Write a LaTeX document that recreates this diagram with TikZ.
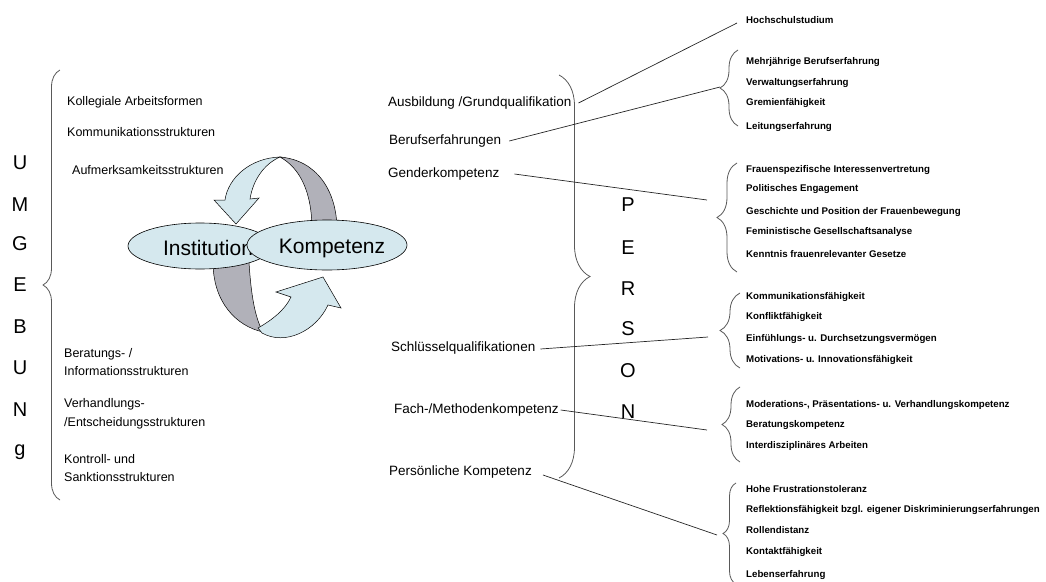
\documentclass[tikz,border=0pt]{standalone}
\usepackage{fontspec}
\setmainfont{Liberation Sans}
\usetikzlibrary{shapes.geometric,decorations.pathreplacing}
\definecolor{ribbonblue}{HTML}{D5E8EE}
\definecolor{ribbongray}{HTML}{B1B1B9}
\begin{document}
\begin{tikzpicture}[x=1pt,y=-1pt,
	lab/.style={font=\fontsize{12.5}{18.5}\selectfont,anchor=west,align=left,inner sep=2pt},
	mid/.style={font=\fontsize{13.5}{16}\selectfont,anchor=west,inner sep=2pt},
	item/.style={font=\bfseries\fontsize{9.7}{11}\selectfont,anchor=west,inner sep=1pt},
	big/.style={font=\fontsize{20}{22}\selectfont,inner sep=0pt},
	bubble/.style={ellipse,draw=black,fill=ribbonblue,line width=0.6pt,inner sep=0pt},
	link/.style={draw=black!85,line width=0.7pt},
	curly/.style={decorate,decoration={brace,amplitude=#1},draw=black!65,line width=0.8pt}]
	\useasboundingbox (0,0) rectangle (1046,581);
	% UMGEBUNg
	\node[big] (u1) at (20,163) {U};
	\node[big] (m1) at (20,205) {M};
	\node[big] (g1) at (20,244) {G};
	\node[big] (e1) at (20,285) {E};
	\node[big] (b1) at (20,327) {B};
	\node[big] (u2) at (20,368) {U};
	\node[big] (n1) at (20,410) {N};
	\node[big] (g2) at (20,452) {g};
	\draw[curly=17] (60,500) -- (60,70);
	% Umgebung structures
	\node[lab] (kolleg) at (65,102) {Kollegiale Arbeitsformen};
	\node[lab] (kommun) at (65,132) {Kommunikationsstrukturen};
	\node[lab] (aufmerk) at (70,170) {Aufmerksamkeitsstrukturen};
	\node[lab] (berat) at (62,362) {Beratungs- /\\Informationsstrukturen};
	\node[lab] (verhand) at (62,414) {Verhandlungs-\\/Entscheidungsstrukturen};
	\node[lab] (kontroll) at (62,468) {Kontroll- und\\Sanktionsstrukturen};
	% ribbons
	\fill[ribbongray,draw=black,line width=0.5pt] (280,157) .. controls (316,160) and (337,190) .. (337,230)
		-- (312,230) .. controls (312,192) and (300,168) .. (280,157) -- cycle;
	\fill[ribbonblue,draw=black,line width=0.5pt] (280,157) .. controls (250,158) and (228,178) .. (225,200)
		-- (214,200) -- (236,224) -- (259,198) -- (250,199) .. controls (253,180) and (264,164) .. (280,157) -- cycle;
	\fill[ribbongray,draw=black,line width=0.5pt] (213,262) -- (249,262) .. controls (251,295) and (255,318) .. (263,332)
		.. controls (236,326) and (213,302) .. (213,262) -- cycle;
	\fill[ribbonblue,draw=black,line width=0.5pt] (258,328) .. controls (272,320) and (285,310) .. (291,297)
		-- (276,292) -- (323,277) -- (341,308) -- (328,305) .. controls (316,331) and (285,346) .. (262,333) -- cycle;
	\node[bubble,minimum width=144pt,minimum height=46pt] (inst) at (200,246) {};
	\node[font=\fontsize{21}{24}\selectfont,inner sep=0pt] (insttxt) at (208,248) {Institution};
	\node[bubble,minimum width=160pt,minimum height=50pt] (komp) at (327,245) {};
	\node[font=\fontsize{21}{24}\selectfont,inner sep=0pt] (komptxt) at (332,248) {Kompetenz};
	% PERSON
	\draw[curly=31] (559,75) -- (559,478);
	\node[big] (p1) at (628,205) {P};
	\node[big] (e2) at (628,248) {E};
	\node[big] (r1) at (628,289) {R};
	\node[big] (s1) at (628,329) {S};
	\node[big] (o1) at (628,371) {O};
	\node[big] (n2) at (628,412) {N};
	% person areas
	\node[mid] (ausb) at (386,103) {Ausbildung /Grundqualifikation};
	\node[mid] (beruf) at (387,141) {Berufserfahrungen};
	\node[mid] (gender) at (386,174) {Genderkompetenz};
	\node[mid] (schl) at (389,348) {Schlüsselqualifikationen};
	\node[mid] (fach) at (392,410) {Fach-/Methodenkompetenz};
	\node[mid] (pers) at (387,472) {Persönliche Kompetenz};
	% details
	\node[item] (hs) at (745,20) {Hochschulstudium};
	\draw[curly=18] (738,126) -- (738,50);
	\node[item] (mbe) at (745,62) {Mehrjährige Berufserfahrung};
	\node[item] (vwe) at (745,83) {Verwaltungserfahrung};
	\node[item] (grf) at (745,103) {Gremienfähigkeit};
	\node[item] (lte) at (745,127) {Leitungserfahrung};
	\draw[curly=20] (737,272) -- (737,163);
	\node[item] (fsi) at (745,170) {Frauenspezifische Interessenvertretung};
	\node[item] (pol) at (745,189) {Politisches Engagement};
	\node[item] (gpf) at (745,212) {Geschichte und Position der Frauenbewegung};
	\node[item] (fga) at (745,232) {Feministische Gesellschaftsanalyse};
	\node[item] (kfg) at (745,254) {Kenntnis frauenrelevanter Gesetze};
	\draw[curly=20] (740,368) -- (740,293);
	\node[item] (kom) at (745,297) {Kommunikationsfähigkeit};
	\node[item] (kon) at (745,317) {Konfliktfähigkeit};
	\node[item] (edv) at (745,339) {Einfühlungs- u. Durchsetzungsvermögen};
	\node[item] (mif) at (745,360) {Motivations- u. Innovationsfähigkeit};
	\draw[curly=18] (740,462) -- (740,387);
	\node[item] (mpv) at (745,405) {Moderations-, Präsentations- u. Verhandlungskompetenz};
	\node[item] (bek) at (745,425) {Beratungskompetenz};
	\node[item] (iar) at (745,446) {Interdisziplinäres Arbeiten};
	\draw[curly=13] (736,584) -- (736,483);
	\node[item] (hft) at (745,489) {Hohe Frustrationstoleranz};
	\node[item] (ref) at (745,510) {Reflektionsfähigkeit bzgl. eigener Diskriminierungserfahrungen};
	\node[item] (rod) at (745,530) {Rollendistanz};
	\node[item] (kof) at (745,552) {Kontaktfähigkeit};
	\node[item] (lef) at (745,575) {Lebenserfahrung};
	% connectors
	\coordinate (hsend) at (737,23);
	\coordinate (berufend) at (720,87);
	\coordinate (genderend) at (707,200);
	\coordinate (schlend) at (708,337);
	\coordinate (fachend) at (707,430);
	\coordinate (persend) at (717,535);
	\draw[link] ([xshift=5pt]ausb.east) -- (hsend);
	\draw[link] ([xshift=6pt]beruf.east) -- (berufend);
	\draw[link] ([xshift=13pt]gender.east) -- (genderend);
	\draw[link] ([xshift=3pt,yshift=-1pt]schl.east) -- (schlend);
	\draw[link] (fach.east) -- (fachend);
	\draw[link] ([xshift=9pt,yshift=-3pt]pers.east) -- (persend);
\end{tikzpicture}
\end{document}
